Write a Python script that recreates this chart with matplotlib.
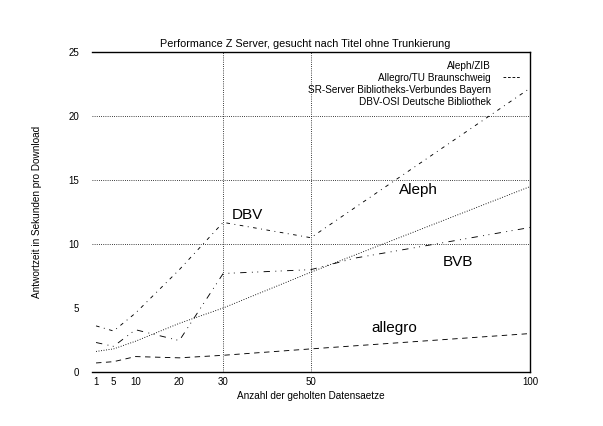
import matplotlib
matplotlib.use("Agg")
import matplotlib.pyplot as plt
from matplotlib.lines import Line2D

plt.rcParams['font.family'] = ['Liberation Sans', 'DejaVu Sans']

# Anzahl der geholten Datensaetze
x = [1, 5, 10, 20, 30, 50, 100]
aleph = [1.6, 1.8, 2.4, 3.8, 5.0, 7.8, 14.5]
allegro = [0.7, 0.8, 1.2, 1.1, 1.3, 1.8, 3.0]
bvb_x = [1, 5, 10, 20, 30, 50, 60, 100]
bvb = [2.3, 2.0, 3.3, 2.45, 7.7, 8.0, 8.9, 11.3]
dbv = [3.6, 3.2, 4.6, 8.0, 11.7, 10.5, 22.2]

xticks = [1, 5, 10, 20, 30, 50, 100]
yticks = [0, 5, 10, 15, 20, 25]

names = ["Aleph/ZIB", "Allegro/TU Braunschweig",
         "SR-Server Bibliotheks-Verbundes Bayern", "DBV-OSI Deutsche Bibliothek"]

fig = plt.figure(figsize=(6.03, 4.26), dpi=100)
ax = fig.add_axes([0.152, 0.127, 0.727, 0.750])

lw = 0.65
ax.plot(x, aleph, color="black", lw=lw, ls=(0, (1, 1.8)))
ax.plot(x, allegro, color="black", lw=lw, ls=(0, (6, 5)))
ax.plot(bvb_x, bvb, color="black", lw=lw, ls=(0, (7, 6, 1, 5, 1, 6)))
ax.plot(x, dbv, color="black", lw=lw, ls=(0, (4, 5, 1, 5)))

# grid only where the original has it
for yv in [10, 15, 20]:
    ax.axhline(yv, color="black", lw=0.6, ls=(0, (1, 1.6)))
for xv in [30, 50]:
    ax.axvline(xv, color="black", lw=0.6, ls=(0, (1, 1.6)))

ax.set_xlim(0, 100)
ax.set_ylim(0, 25)
ax.set_xticks(xticks)
ax.set_yticks(yticks)
ax.tick_params(length=0, labelsize=7)
ax.tick_params(axis="y", pad=9)
ax.tick_params(axis="x", pad=4)
ax.spines["left"].set_visible(False)
for s in ["top", "right", "bottom"]:
    ax.spines[s].set_linewidth(1.0)

ax.text(35.5, 12.3, "DBV", fontsize=11, ha="center", va="center")
ax.text(74.5, 14.2, "Aleph", fontsize=11, ha="center", va="center")
ax.text(83.5, 8.6, "BVB", fontsize=11, ha="center", va="center")
ax.text(69, 3.4, "allegro", fontsize=11, ha="center", va="center")

handles = [Line2D([], [], color="none"),
           Line2D([], [], color="black", lw=lw, ls=(0, (3, 2))),
           Line2D([], [], color="none"),
           Line2D([], [], color="none")]
ax.legend(handles, names, loc="upper right", bbox_to_anchor=(0.995, 0.995),
          frameon=False, fontsize=7.2, markerfirst=False, handlelength=1.8,
          handletextpad=1.2, labelspacing=0.2, borderaxespad=0.3)

ax.set_xlabel("Anzahl der geholten Datensaetze", fontsize=7.2)
ax.xaxis.set_label_coords(0.5, -0.06)
ax.set_ylabel("Antwortzeit in Sekunden pro Download", fontsize=7.2)
ax.yaxis.set_label_coords(-0.113, 0.5)
fig.text(305 / 603, 1 - 44 / 426, "Performance Z Server, gesucht nach Titel ohne Trunkierung",
         fontsize=7.8, ha="center", va="center")

fig.savefig("out.png", dpi=100)
